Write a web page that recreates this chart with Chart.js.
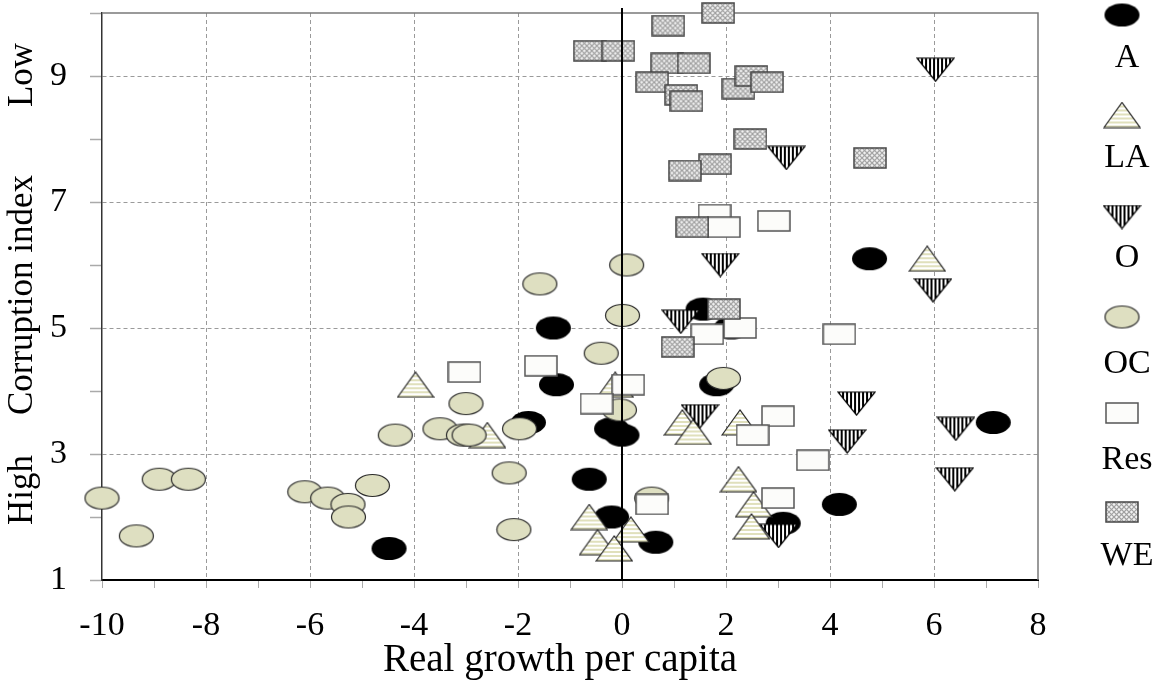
<!DOCTYPE html>
<html><head><meta charset="utf-8">
<script src="https://cdn.jsdelivr.net/npm/chart.js@4/dist/chart.umd.min.js"></script>
<style>html,body{margin:0;padding:0;background:#fff;}#wrap{width:1152px;height:684px;}</style>
</head><body><div id="wrap"><canvas id="c" width="1152" height="684"></canvas></div>
<script>
// ---- data ----
const seriesNames = ['A', 'LA', 'O', 'OC', 'Res', 'WE'];
const xTickLabels = [-10, -8, -6, -4, -2, 0, 2, 4, 6, 8];
const yTickLabels = [1, 3, 5, 7, 9];
const yTitleParts = ['High', 'Corruption index', 'Low'];
const xTitle = 'Real growth per capita';

const aX  = [1.56, -1.32, -1.26, 1.82, -0.2, 0.0, -1.8, 7.14, -0.63, 4.18, -0.2, 3.1, 0.65, -4.48, 4.76, 2.1];
const aY  = [5.3, 5.0, 4.1, 4.1, 3.4, 3.3, 3.5, 3.5, 2.6, 2.2, 2.0, 1.9, 1.6, 1.5, 6.1, 5.0];
const laX = [-3.97, -2.59, -0.13, 1.16, 1.37, 2.27, 2.24, 2.53, 2.49, -0.63, 0.17, -0.47, -0.15, 5.87];
const laY = [4.1, 3.3, 4.1, 3.5, 3.35, 3.5, 2.6, 2.2, 1.85, 2.0, 1.8, 1.6, 1.5, 6.1];
const oX  = [6.03, 3.16, 1.89, 5.98, 1.13, 1.5, 4.51, 4.33, 6.42, 6.4, 3.01];
const oY  = [9.1, 7.7, 6.0, 5.6, 5.1, 3.6, 3.8, 3.2, 3.4, 2.6, 1.7];
const ocX = [0.01, -0.4, 1.95, -0.05, 0.57, 0.09, -1.58, -10, -9.34, -8.9, -8.34, -6.1, -5.66, -5.27, -5.26, -4.8, -4.36, -3.5, -3.05, -2.94, -3.0, -1.97, -2.17, -2.08];
const ocY = [5.2, 4.6, 4.2, 3.7, 2.3, 6.0, 5.7, 2.3, 1.7, 2.6, 2.6, 2.4, 2.3, 2.2, 2.0, 2.5, 3.3, 3.4, 3.3, 3.3, 3.8, 3.4, 2.7, 1.8];
const resX = [1.78, 1.96, 2.92, 1.64, 2.27, 4.18, 0.12, -0.49, 3.0, 2.51, 3.67, 3.0, 0.58, -3.03, -1.56];
const resY = [6.8, 6.6, 6.7, 4.9, 5.0, 4.9, 4.1, 3.8, 3.6, 3.3, 2.9, 2.3, 2.2, 4.3, 4.4];
const weX = [1.85, 0.89, -0.62, -0.07, 0.87, 1.38, 0.58, 2.24, 2.49, 2.79, 1.14, 1.24, 2.47, 1.79, 1.21, 4.77, 1.35, 1.96, 1.07];
const weY = [10.0, 9.8, 9.4, 9.4, 9.2, 9.2, 8.9, 8.8, 9.0, 8.9, 8.7, 8.6, 8.0, 7.6, 7.5, 7.7, 6.6, 5.3, 4.7];

// ---- marker images ----
function mk(w, h, draw) { const c = document.createElement('canvas'); c.width = w; c.height = h; draw(c.getContext('2d'), w, h); return c; }
const imgA = mk(37, 25, (g, w, h) => { g.beginPath(); g.ellipse(w/2, h/2, 17.5, 11.5, 0, 0, Math.PI*2); g.fillStyle = '#000'; g.fill(); });
const imgOC = mk(37, 25, (g, w, h) => { g.beginPath(); g.ellipse(w/2, h/2, 17, 11, 0, 0, Math.PI*2); g.fillStyle = '#dedfc1'; g.fill(); g.lineWidth = 1.2; g.strokeStyle = '#2a2a2a'; g.stroke(); });
const imgLA = mk(38, 27, (g, w, h) => { g.beginPath(); g.moveTo(1, h-1); g.lineTo(w/2, 1); g.lineTo(w-1, h-1); g.closePath(); g.save(); g.clip(); g.fillStyle = '#fff'; g.fillRect(0, 0, w, h); g.fillStyle = '#e0e0bc'; for (let y = h-3; y > -2; y -= 4) g.fillRect(0, y, w, 2); g.restore(); g.lineWidth = 1.2; g.strokeStyle = '#222'; g.stroke(); });
const imgO = mk(39, 25, (g, w, h) => { g.beginPath(); g.moveTo(1, 1); g.lineTo(w-1, 1); g.lineTo(w/2, h-1); g.closePath(); g.save(); g.clip(); g.fillStyle = '#fff'; g.fillRect(0, 0, w, h); g.fillStyle = '#000'; for (let x = 1; x < w; x += 4) g.fillRect(x, 0, 2, h); g.restore(); g.lineWidth = 1.2; g.strokeStyle = '#000'; g.stroke(); });
const imgRes = mk(34, 22, (g, w, h) => { g.fillStyle = '#fcfcfa'; g.fillRect(1, 1, w-2, h-2); g.lineWidth = 1.5; g.strokeStyle = '#555'; g.strokeRect(1, 1, w-2, h-2); });
const imgWE = mk(34, 22, (g, w, h) => { g.fillStyle = '#f2f2f2'; g.fillRect(1, 1, w-2, h-2); g.save(); g.beginPath(); g.rect(1, 1, w-2, h-2); g.clip(); g.strokeStyle = '#a0a0a0'; g.lineWidth = 1.2; for (let k = -h; k < w + h; k += 5) { g.beginPath(); g.moveTo(k, 0); g.lineTo(k + h, h); g.stroke(); g.beginPath(); g.moveTo(k + h, 0); g.lineTo(k, h); g.stroke(); } g.restore(); g.lineWidth = 1.5; g.strokeStyle = '#444'; g.strokeRect(1, 1, w-2, h-2); });

const images = [imgA, imgLA, imgO, imgOC, imgRes, imgWE];
const xs = [aX, laX, oX, ocX, resX, weX];
const ys = [aY, laY, oY, ocY, resY, weY];

const FONT = '"Liberation Serif","Times New Roman",Times,serif';

const datasets = seriesNames.map((name, i) => ({
  label: name,
  data: xs[i].map((x, j) => ({ x: x, y: ys[i][j] })),
  pointStyle: images[i],
  pointRadius: 12,
  showLine: false,
  clip: false,
  order: seriesNames.length - i
}));

const legendMarkY = [15, 115, 217, 317, 413, 512];
const legendTextY = [58, 158, 258, 364, 460, 556];

const decor = {
  id: 'decor',
  beforeDatasetsDraw(chart) {
    const { ctx, chartArea: a } = chart;
    ctx.save();
    ctx.strokeStyle = '#7a7a7a'; ctx.lineWidth = 1.5;
    ctx.beginPath(); ctx.moveTo(a.left, a.top); ctx.lineTo(a.right, a.top); ctx.lineTo(a.right, a.bottom); ctx.stroke();
    ctx.restore();
  },
  afterDatasetsDraw(chart) {
    const { ctx, chartArea: a } = chart;
    const x0 = chart.scales.x.getPixelForValue(0);
    ctx.save();
    ctx.strokeStyle = '#000'; ctx.lineWidth = 2;
    ctx.beginPath(); ctx.moveTo(x0, a.top - 5); ctx.lineTo(x0, a.bottom); ctx.stroke();
    ctx.restore();
  },
  afterDraw(chart) {
    const { ctx } = chart;
    ctx.save();
    ctx.fillStyle = '#000';
    ctx.textAlign = 'center'; ctx.textBaseline = 'middle';
    ctx.font = '39px ' + FONT;
    ctx.fillText(xTitle, 560, 661);
    ctx.font = '35px ' + FONT;
    const yc = [490, 295, 75];
    yTitleParts.forEach((t, i) => {
      ctx.save(); ctx.translate(23, yc[i]); ctx.rotate(-Math.PI/2); ctx.fillText(t, 0, 0); ctx.restore();
    });
    // legend
    ctx.font = '34px ' + FONT;
    chart.data.datasets.forEach((ds, i) => {
      const img = ds.pointStyle;
      ctx.drawImage(img, 1122 - img.width/2, legendMarkY[i] - img.height/2);
      ctx.fillText(ds.label, 1127, legendTextY[i]);
    });
    ctx.restore();
  }
};

new Chart(document.getElementById('c'), {
  type: 'scatter',
  data: { datasets },
  options: {
    responsive: false,
    animation: false,
    events: [],
    devicePixelRatio: 1,
    layout: { padding: { top: 9, right: 114, left: 0, bottom: 0 } },
    plugins: { legend: { display: false }, tooltip: { enabled: false } },
    scales: {
      x: {
        type: 'linear', min: -10, max: 8,
        afterFit: s => { s.height = 104; s.paddingLeft = 0; s.paddingRight = 0; },
        ticks: {
          stepSize: 1, autoSkip: false, maxRotation: 0, padding: 18, color: '#000',
          font: { family: FONT, size: 34 },
          callback: v => (xTickLabels.includes(v) ? String(v) : '')
        },
        grid: {
          color: c => (c.tick && Math.abs(c.tick.value % 2) === 0 && c.tick.value > -10 && c.tick.value < 8) ? '#9a9a9a' : 'rgba(0,0,0,0)',
          lineWidth: 1, tickColor: '#aaaaaa', tickLength: 8, tickWidth: 1
        },
        border: { display: true, color: '#000', width: 2, dash: [4, 3] }
      },
      y: {
        type: 'linear', min: 1, max: 10,
        afterFit: s => { s.width = 102; s.paddingTop = 0; s.paddingBottom = 0; },
        ticks: {
          stepSize: 1, autoSkip: false, padding: 23, color: '#000',
          font: { family: FONT, size: 34 },
          callback: v => (yTickLabels.includes(v) ? String(v) : '')
        },
        grid: {
          color: c => (c.tick && yTickLabels.includes(c.tick.value) && c.tick.value > 1) ? '#9a9a9a' : 'rgba(0,0,0,0)',
          lineWidth: 1, tickColor: '#aaaaaa', tickLength: 12, tickWidth: 1.5
        },
        border: { display: true, color: '#333', width: 1.5, dash: [4, 3] }
      }
    }
  },
  plugins: [decor]
});
</script>
</body></html>
